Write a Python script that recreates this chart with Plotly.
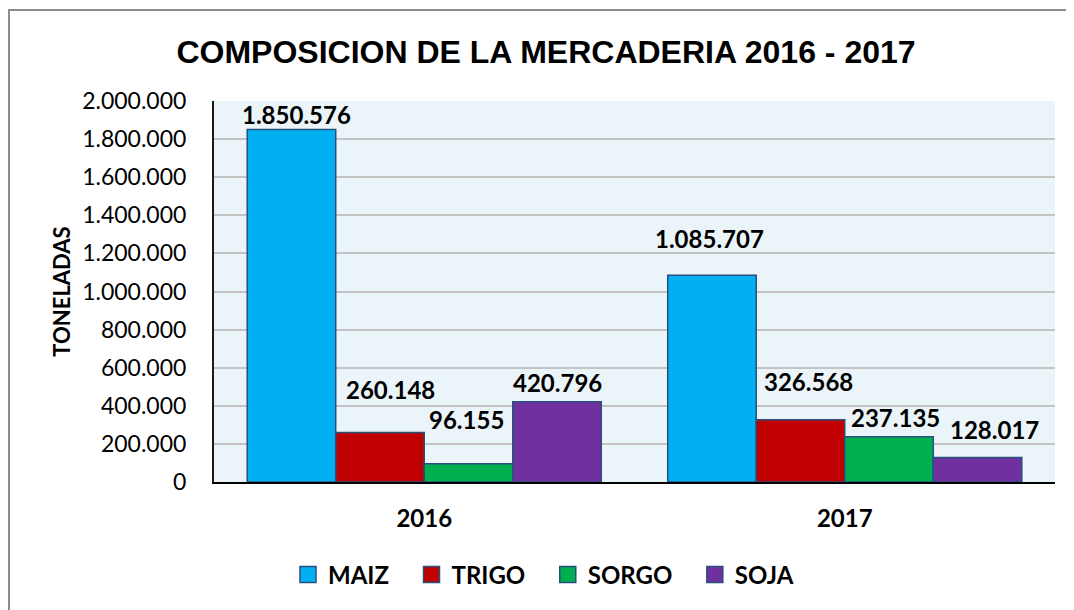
import plotly.graph_objects as go

years = ["2016", "2017"]
products = ["MAIZ", "TRIGO", "SORGO", "SOJA"]
maiz = [1850576, 1085707]
trigo = [260148, 326568]
sorgo = [96155, 237135]
soja = [420796, 128017]
y_ticks = list(range(0, 2000001, 200000))

series = [maiz, trigo, sorgo, soja]
colors = ["#00B0F0", "#C00000", "#00B050", "#7030A0"]
outline = "#27507E"

# label offsets (pixels) to mimic manual placement in the original
label_yshift = [[15, 37], [43, 38], [44, 19], [19, 28]]
label_xshift = [[5, -2], [11, 8], [-2, 6], [0, 17]]

# page has an 8px body margin; work in figure pixel coords
OFF = 8
W, H = 1066, 602
L, T = 214 - OFF, 101 - OFF
R = W - (1055 - OFF)
B = H - (482 - OFF)
pw, ph = W - L - R, H - T - B

bargap = 0.158

fig = go.Figure()
for name, vals, col in zip(products, series, colors):
    fig.add_trace(go.Bar(
        x=years, y=vals, name=name, showlegend=False,
        marker=dict(color=col, line=dict(color=outline, width=1.5)),
        hoverinfo="skip",
    ))
# legend proxies
pad = "\u00a0\u00a0\u00a0"
for name, col in zip(products, colors):
    fig.add_trace(go.Scatter(
        x=[None], y=[None], mode="markers", name=name + pad,
        marker=dict(symbol="square", size=16, color=col,
                    line=dict(color=outline, width=1.5)),
    ))

n = len(products)
group_w = 1 - bargap
bar_w = group_w / n
annotations = []
for si, vals in enumerate(series):
    for ci, v in enumerate(vals):
        xpos = ci - group_w / 2 + bar_w * (si + 0.5)
        annotations.append(dict(
            x=xpos, y=v, xref="x", yref="y",
            text=f"{v:,}".replace(",", "."),
            showarrow=False, yanchor="middle", xanchor="center",
            yshift=label_yshift[si][ci], xshift=label_xshift[si][ci],
            font=dict(family="Lato", size=24, color="#000000", weight="bold"),
        ))

def px_x(p):
    return (p - OFF - L) / pw

def px_y(p):
    return (H - B - (p - OFF)) / ph

shapes = [dict(
    type="rect", xref="paper", yref="paper",
    x0=px_x(OFF + 1), x1=1.2, y0=-0.6, y1=px_y(10),
    line=dict(color="#8C8C8C", width=2), fillcolor="rgba(0,0,0,0)",
    layer="below",
)]

fig.update_layout(
    width=W, height=H,
    margin=dict(l=L, r=R, t=T, b=B, autoexpand=False),
    paper_bgcolor="white",
    plot_bgcolor="#EBF4F8",
    separators=",.",
    barmode="group",
    bargap=bargap,
    bargroupgap=0,
    title=dict(
        text="<b>COMPOSICION DE LA MERCADERIA 2016 - 2017</b>",
        x=px_x(546), xanchor="center", xref="paper",
        y=1 - (52 - OFF) / H, yanchor="middle", yref="container",
        font=dict(family="Liberation Sans", size=32, color="#000000"),
    ),
    xaxis=dict(
        type="category",
        showgrid=False,
        showline=True, linecolor="#000000", linewidth=2,
        ticks="", ticklabelstandoff=14,
        tickfont=dict(family="Lato", size=24, color="#000000", weight="bold"),
        fixedrange=True,
    ),
    yaxis=dict(
        range=[0, 2000000],
        tickvals=y_ticks,
        tickformat=",d",
        showgrid=True, gridcolor="#C3C3C3", gridwidth=2,
        showline=True, linecolor="#1A1A1A", linewidth=2,
        zeroline=False,
        ticks="", ticklabelstandoff=21,
        tickfont=dict(family="Lato", size=23, color="#000000"),
        title=dict(text="<b>TONELADAS</b>", standoff=5,
                   font=dict(family="Lato", size=22, color="#000000")),
        fixedrange=True,
    ),
    legend=dict(
        orientation="h", x=px_x(552), xanchor="center",
        y=px_y(575), yanchor="middle",
        font=dict(family="Lato", size=24, color="#000000", weight="bold"),
        bgcolor="rgba(0,0,0,0)",
        itemclick=False, itemdoubleclick=False,
    ),
    annotations=annotations,
    shapes=shapes,
)

fig.write_html("out.html")
